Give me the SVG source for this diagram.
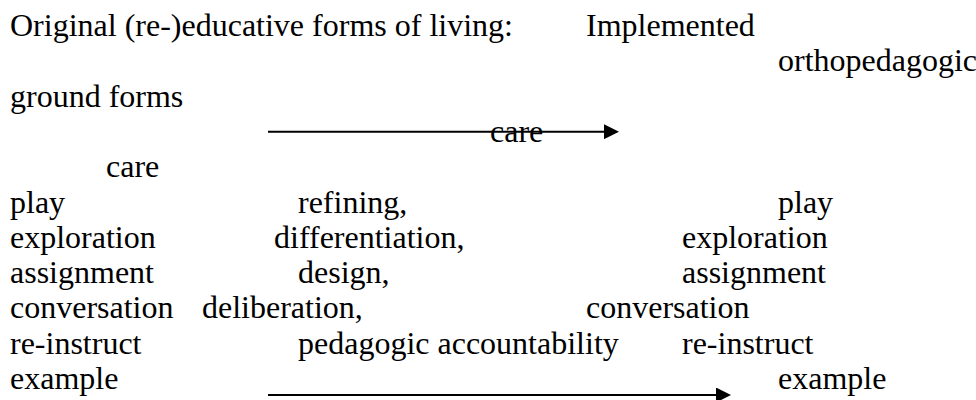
<svg xmlns="http://www.w3.org/2000/svg" width="976" height="400" viewBox="0 0 976 400">
<style>
.t { font-family: 'Liberation Serif', Tinos, 'Times New Roman', Times, 'DejaVu Serif', serif; font-size: 32px; fill: #000; }
.conn { stroke: #000; stroke-width: 2; fill: none; }
</style>
<defs>
<marker id="ah" markerUnits="userSpaceOnUse" markerWidth="15" markerHeight="15" viewBox="0 0 15 15" refX="0" refY="7.5" orient="auto">
<path d="M0,0 L15,7.5 L0,15 Z" fill="#000"/>
</marker>
</defs>
<rect width="976" height="400" fill="#fff"/>
<g id="connectors">
<line class="conn" x1="268" y1="131.7" x2="604" y2="131.7" marker-end="url(#ah)"/>
<line class="conn" x1="268" y1="395" x2="716" y2="395" marker-end="url(#ah)"/>
</g>
<g class="t" font-family="Liberation Serif, Tinos, Times New Roman, serif" font-size="32">
<g id="header-left">
<text x="10" y="36">Original (re-)educative forms of living:</text>
<text x="10" y="106.6">ground forms</text>
</g>
<g id="header-right">
<text x="586" y="36">Implemented</text>
<text x="778" y="71.3">orthopedagogic</text>
</g>
<g id="arrow-label">
<text x="490" y="141.9">care</text>
</g>
<g id="left-column">
<text x="106" y="177.2">care</text>
<text x="10" y="212.5">play</text>
<text x="10" y="247.8">exploration</text>
<text x="10" y="283.1">assignment</text>
<text x="10" y="318.4">conversation</text>
<text x="10" y="353.7">re-instruct</text>
<text x="10" y="389">example</text>
</g>
<g id="middle-column">
<text x="298" y="212.5">refining,</text>
<text x="274" y="247.8">differentiation,</text>
<text x="298" y="283.1">design,</text>
<text x="202" y="318.4">deliberation,</text>
<text x="298" y="353.7">pedagogic accountability</text>
</g>
<g id="right-column">
<text x="778" y="212.5">play</text>
<text x="682" y="247.8">exploration</text>
<text x="682" y="283.1">assignment</text>
<text x="586" y="318.4">conversation</text>
<text x="682" y="353.7">re-instruct</text>
<text x="778" y="389">example</text>
</g>
</g>
</svg>
